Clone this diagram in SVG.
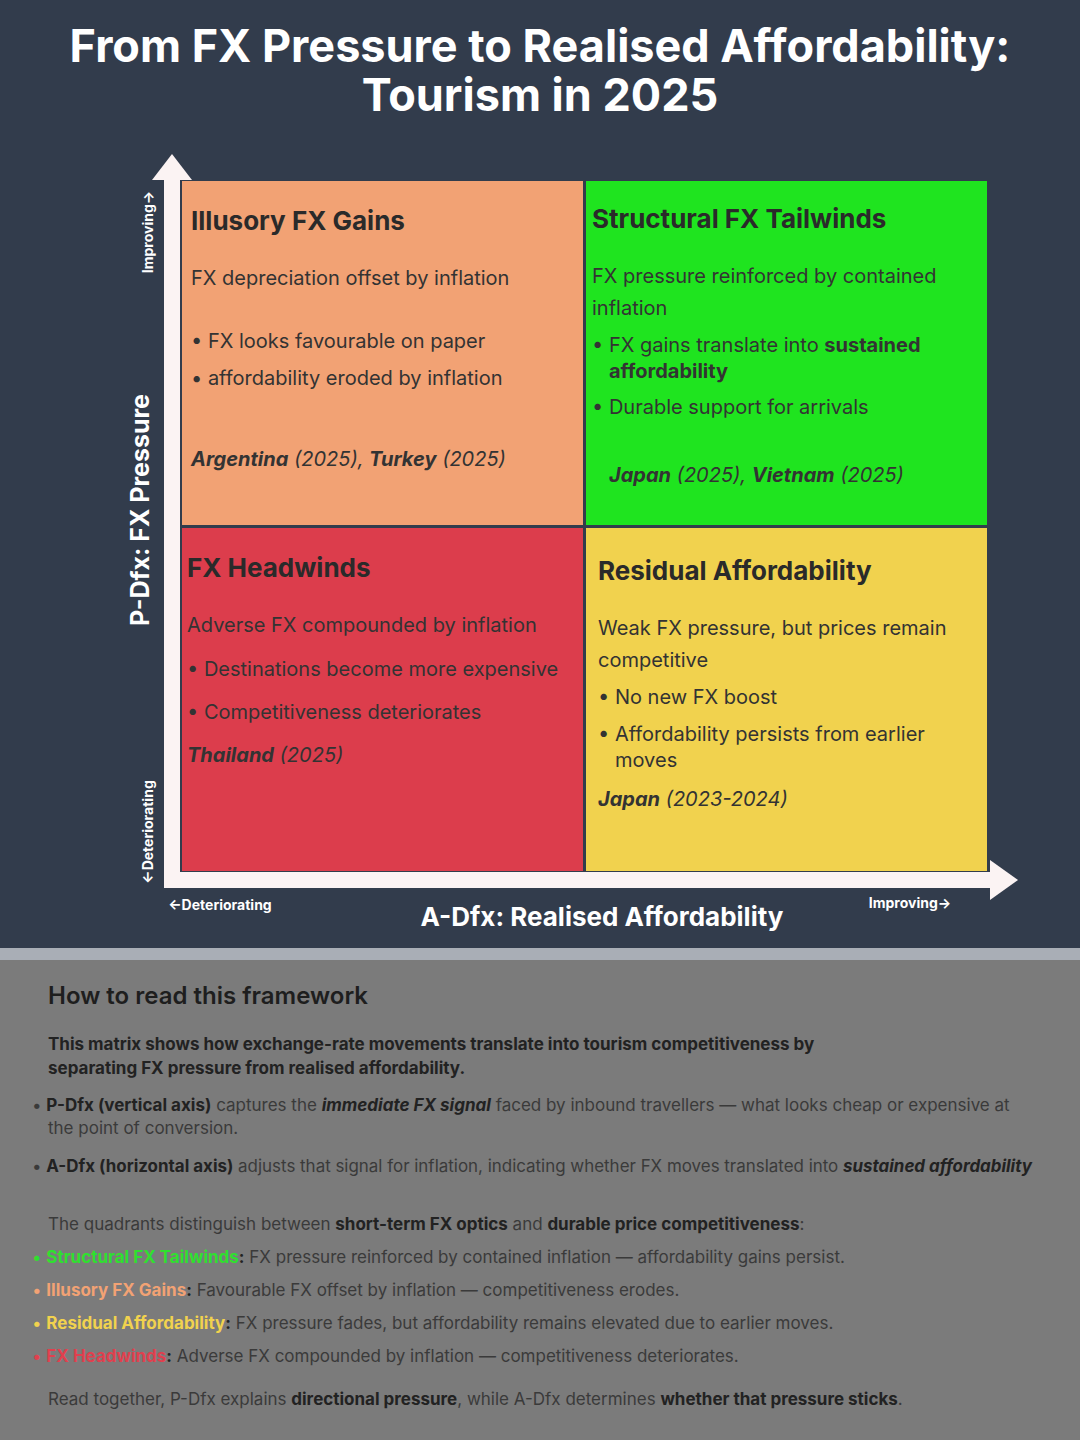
<svg xmlns="http://www.w3.org/2000/svg" width="1080" height="1440" viewBox="0 0 1080 1440">
<style>
text{font-family:Inter,"Liberation Sans",sans-serif}
.qt{font-size:26px;font-weight:700;fill:#2a2a2a}
.qb{font-size:20px;fill:#333}
.qe{font-size:20px;font-style:italic;fill:#333}
.ax{font-size:14px;font-weight:700;fill:#fff}
.bt{font-size:17px;fill:#3a3a3a}
.b{font-weight:700;fill:#222}
</style>
<rect width="1080" height="1440" fill="#323c4c"/>
<rect y="948" width="1080" height="12" fill="#a9aeb6"/>
<rect y="960" width="1080" height="480" fill="#7b7b7b"/>
<text x="540" y="62" text-anchor="middle" font-size="45" font-weight="700" fill="#fff">From FX Pressure to Realised Affordability:</text>
<text x="540" y="111" text-anchor="middle" font-size="45" font-weight="700" fill="#fff">Tourism in 2025</text>

<g id="q-illusory">
<rect x="182" y="181" width="401" height="344" fill="#f2a274"/>
<text class="qt" x="191" y="230">Illusory FX Gains</text>
<text class="qb" x="191" y="285">FX depreciation offset by inflation</text>
<text class="qb" x="191" y="348">• FX looks favourable on paper</text>
<text class="qb" x="191" y="385">• affordability eroded by inflation</text>
<text class="qe" x="191" y="466"><tspan font-weight="700">Argentina</tspan> (2025), <tspan font-weight="700">Turkey</tspan> (2025)</text>
</g>
<g id="q-structural">
<rect x="586" y="181" width="401" height="344" fill="#1fe41f"/>
<text class="qt" x="592" y="228">Structural FX Tailwinds</text>
<text class="qb" x="592" y="283">FX pressure reinforced by contained</text>
<text class="qb" x="592" y="315">inflation</text>
<text class="qb" x="592" y="352">• FX gains translate into <tspan font-weight="700">sustained</tspan></text>
<text class="qb" x="609" y="378" font-weight="700">affordability</text>
<text class="qb" x="592" y="414">• Durable support for arrivals</text>
<text class="qe" x="609" y="482"><tspan font-weight="700">Japan</tspan> (2025), <tspan font-weight="700">Vietnam</tspan> (2025)</text>
</g>
<g id="q-headwinds">
<rect x="182" y="528" width="401" height="343" fill="#dc3d4c"/>
<text class="qt" x="187" y="577">FX Headwinds</text>
<text class="qb" x="187" y="632">Adverse FX compounded by inflation</text>
<text class="qb" x="187" y="676">• Destinations become more expensive</text>
<text class="qb" x="187" y="719">•  Competitiveness deteriorates</text>
<text class="qe" x="187" y="762"><tspan font-weight="700">Thailand</tspan> (2025)</text>
</g>
<g id="q-residual">
<rect x="586" y="528" width="401" height="343" fill="#f1d24e"/>
<text class="qt" x="598" y="580">Residual Affordability</text>
<text class="qb" x="598" y="635">Weak FX pressure, but prices remain</text>
<text class="qb" x="598" y="667">competitive</text>
<text class="qb" x="598" y="704">• No new FX boost</text>
<text class="qb" x="598" y="741">• Affordability persists from earlier</text>
<text class="qb" x="615" y="767">moves</text>
<text class="qe" x="598" y="806"><tspan font-weight="700">Japan</tspan> (2023-2024)</text>
</g>

<g id="axes">
<rect x="164" y="178" width="16" height="710" fill="#fbf3f3"/>
<polygon points="172,154 192,180 152,180" fill="#fbf3f3"/>
<rect x="164" y="872" width="828" height="16" fill="#fbf3f3"/>
<polygon points="1018,880 990,860 990,900" fill="#fbf3f3"/>
<text class="ax" transform="translate(153,232) rotate(-90)" text-anchor="middle">Improving→</text>
<text class="ax" transform="translate(153,832) rotate(-90)" text-anchor="middle">←Deteriorating</text>
<text transform="translate(149,510) rotate(-90)" text-anchor="middle" font-size="25" font-weight="700" fill="#fff">P-Dfx: FX Pressure</text>
<text class="ax" x="220" y="910" text-anchor="middle" font-size="15">←Deteriorating</text>
<text class="ax" x="910" y="908" text-anchor="middle" font-size="15">Improving→</text>
<text x="602" y="926" text-anchor="middle" font-size="26" font-weight="700" fill="#fff">A-Dfx: Realised Affordability</text>
</g>

<g id="legend">
<text x="48" y="1004" font-size="24" font-weight="600" fill="#1e1e1e">How to read this framework</text>
<text class="bt b" x="48" y="1050">This matrix shows how exchange-rate movements translate into tourism competitiveness by</text>
<text class="bt b" x="48" y="1074">separating FX pressure from realised affordability.</text>
<text class="bt" x="32" y="1111">• <tspan class="b">P-Dfx (vertical axis)</tspan> captures the <tspan class="b" font-style="italic">immediate FX signal</tspan> faced by inbound travellers — what looks cheap or expensive at</text>
<text class="bt" x="48" y="1134">the point of conversion.</text>
<text class="bt" x="32" y="1172" textLength="1000" lengthAdjust="spacingAndGlyphs">• <tspan class="b">A-Dfx (horizontal axis)</tspan> adjusts that signal for inflation, indicating whether FX moves translated into <tspan class="b" font-style="italic">sustained affordability</tspan></text>
<text class="bt" x="48" y="1230">The quadrants distinguish between <tspan class="b">short-term FX optics</tspan> and <tspan class="b">durable price competitiveness</tspan>:</text>
<text class="bt" x="32" y="1263"><tspan fill="#2fe02f">• </tspan><tspan fill="#2fe02f" font-weight="700">Structural FX Tailwinds</tspan><tspan class="b">:</tspan> FX pressure reinforced by contained inflation — affordability gains persist.</text>
<text class="bt" x="32" y="1296"><tspan fill="#f2a274">• </tspan><tspan fill="#f2a274" font-weight="700">Illusory FX Gains</tspan><tspan class="b">:</tspan> Favourable FX offset by inflation — competitiveness erodes.</text>
<text class="bt" x="32" y="1329"><tspan fill="#f1d24e">• </tspan><tspan fill="#f1d24e" font-weight="700">Residual Affordability</tspan><tspan class="b">:</tspan> FX pressure fades, but affordability remains elevated due to earlier moves.</text>
<text class="bt" x="32" y="1362"><tspan fill="#e0404e">• </tspan><tspan fill="#e0404e" font-weight="700">FX Headwinds</tspan><tspan class="b">:</tspan> Adverse FX compounded by inflation — competitiveness deteriorates.</text>
<text class="bt" x="48" y="1405">Read together, P-Dfx explains <tspan class="b">directional pressure</tspan>, while A-Dfx determines <tspan class="b">whether that pressure sticks</tspan>.</text>
</g>
</svg>
